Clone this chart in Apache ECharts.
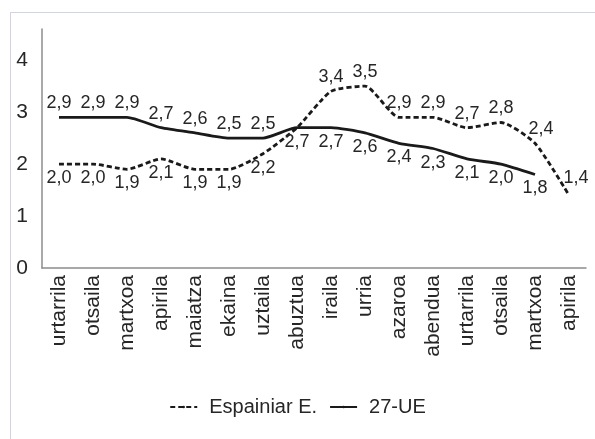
<!DOCTYPE html>
<html>
<head>
<meta charset="utf-8">
<script src="https://cdn.jsdelivr.net/npm/echarts@6/dist/echarts.min.js"></script>
<style>
  html, body { margin: 0; padding: 0; background: #fff; }
  #chart { width: 595px; height: 439px; }
  #frame { position: absolute; left: 10px; top: 12px; width: 600px; height: 440px;
           border-left: 1px solid #d0d4e4; border-top: 1px solid #d0d4e4; }
</style>
</head>
<body>
<div id="frame"></div>
<div id="chart" style="position:absolute;left:0;top:0"></div>
<script>
// hilabeteak
var months = ["urtarrila", "otsaila", "martxoa", "apirila", "maiatza", "ekaina", "uztaila",
  "abuztua", "iraila", "urria", "azaroa", "abendua", "urtarrila", "otsaila", "martxoa", "apirila"];
var spain = [2.0, 2.0, 1.9, 2.1, 1.9, 1.9, 2.2, 2.7, 3.4, 3.5, 2.9, 2.9, 2.7, 2.8, 2.4, 1.4];
var eu27 = [2.9, 2.9, 2.9, 2.7, 2.6, 2.5, 2.5, 2.7, 2.7, 2.6, 2.4, 2.3, 2.1, 2.0, 1.8, null];
var yTicks = [0, 1, 2, 3, 4];

var fontName = "Liberation Sans";
var txt = "#262626";

function fmt(p) {
  if (p.value == null || isNaN(p.value)) return "";
  return Number(p.value).toFixed(1).replace(".", ",");
}

var chart = echarts.init(document.getElementById("chart"));

// etiketen kokapena: lehenengo zazpiak alde batera, gainerakoak bestera
var spainData = spain.map(function (v, i) {
  var lab = { show: i !== 7, position: i < 7 ? "bottom" : "top" };
  if (i === 14) lab.offset = [6, 0];
  if (i === 15) lab.offset = [7, -3];
  return { value: v, label: lab };
});
var euData = eu27.map(function (v, i) {
  return { value: v, label: { show: v != null, position: i < 7 ? "top" : "bottom" } };
});

chart.setOption({
  animation: false,
  textStyle: { fontFamily: fontName },
  grid: { left: 42, right: 9, top: 29, bottom: 171 },
  legend: {
    bottom: 17,
    left: "center",
    itemWidth: 27,
    itemHeight: 3,
    itemGap: 12,
    textStyle: { color: txt, fontSize: 20, fontFamily: fontName, padding: [0, 0, 0, 7] }
  },
  xAxis: {
    type: "category",
    data: months,
    boundaryGap: true,
    axisLine: { lineStyle: { color: "#8c8c8c", width: 1.5 } },
    axisTick: { show: false },
    axisLabel: { rotate: 90, interval: 0, color: txt, fontSize: 21, margin: 7, fontFamily: fontName }
  },
  yAxis: {
    type: "value",
    min: 0,
    max: 4.6,
    interval: 1,
    splitLine: { show: false },
    axisLine: { show: true, lineStyle: { color: "#8c8c8c", width: 1.5 } },
    axisTick: { show: false },
    axisLabel: {
      color: txt, fontSize: 21, margin: 14, fontFamily: fontName,
      formatter: function (v) { return yTicks.indexOf(v) >= 0 ? String(v) : ""; }
    }
  },
  series: [
    {
      name: "Espainiar E.",
      type: "line",
      data: spainData,
      symbol: "circle",
      symbolSize: 0.1,
      smooth: 0.2,
      lineStyle: { color: "#1a1a1a", width: 2.8, type: [5, 3] },
      itemStyle: { color: "#1a1a1a" },
      label: { show: true, color: txt, fontSize: 18, distance: 5, formatter: fmt }
    },
    {
      name: "27-UE",
      type: "line",
      data: euData,
      symbol: "circle",
      symbolSize: 0.1,
      smooth: 0.2,
      lineStyle: { color: "#1a1a1a", width: 2.8 },
      itemStyle: { color: "#1a1a1a" },
      label: { show: true, color: txt, fontSize: 18, distance: 5, formatter: fmt }
    }
  ]
});
</script>
</body>
</html>
